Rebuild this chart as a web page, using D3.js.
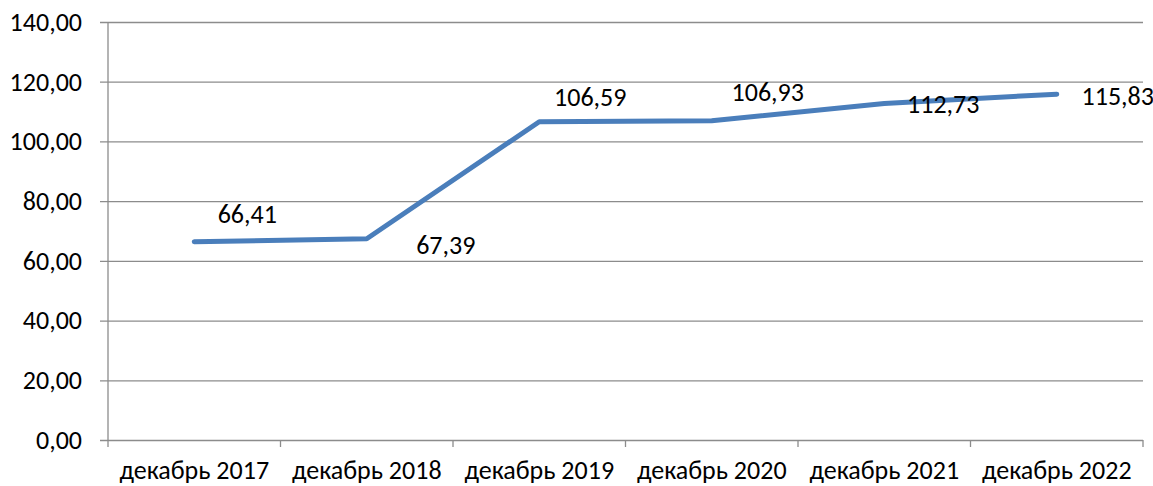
<!DOCTYPE html>
<html>
<head>
<meta charset="utf-8">
<script src="https://cdn.jsdelivr.net/npm/d3@7"></script>
<style>
  body { margin: 0; background: #fff; }
  svg text { font-family: Carlito, Calibri, "Liberation Sans", sans-serif; fill: #000; }
</style>
</head>
<body>
<div id="chart"></div>
<script>
const categories = ['декабрь 2017', 'декабрь 2018', 'декабрь 2019', 'декабрь 2020', 'декабрь 2021', 'декабрь 2022']
const values = [66.41, 67.39, 106.59, 106.93, 112.73, 115.83]
const yTicks = [0, 20, 40, 60, 80, 100, 120, 140]

// where each data label sits relative to its point (as placed in the original)
const labelShift = [[53, -19], [79, 15], [51, -16], [56, -20], [59, 10], [61, 11]]

const width = 1153
const height = 486
const margin = { top: 22, right: 10, bottom: 46, left: 108 }
const fontSize = 26

const svg = d3.select('#chart')
  .append('svg')
    .attr('width', width)
    .attr('height', height)

const xScale = d3.scaleBand()
  .domain(categories)
  .range([margin.left, width - margin.right])

const yScale = d3.scaleLinear()
  .domain([0, 140])
  .range([height - margin.bottom, margin.top])

const fmt = v => d3.format('.2f')(v).replace('.', ',')

// gridlines + y axis
const yAxis = d3.axisLeft(yScale)
  .tickValues(yTicks)
  .tickFormat(fmt)
  .tickSize(-(width - margin.right - margin.left))
  .tickSizeOuter(0)

const gy = svg.append('g')
  .attr('transform', `translate(${margin.left},0)`)
  .call(yAxis)
gy.select('.domain').remove()
gy.selectAll('.tick line')
  .attr('x1', -8)
  .attr('stroke', '#8c8c8c')
  .attr('stroke-width', 1.3)
gy.selectAll('.tick text')
  .attr('x', -26)
  .attr('dy', '0.32em')
  .attr('font-size', fontSize)

svg.append('line')
  .attr('x1', margin.left).attr('x2', margin.left)
  .attr('y1', margin.top).attr('y2', height - margin.bottom)
  .attr('stroke', '#8c8c8c')
  .attr('stroke-width', 1.3)

// x axis with ticks on category boundaries
const gx = svg.append('g')
  .attr('transform', `translate(0,${height - margin.bottom})`)
  .call(d3.axisBottom(xScale).tickSize(0).tickSizeOuter(0))
gx.select('.domain').remove()
gx.selectAll('.tick text')
  .attr('y', 39)
  .attr('dy', 0)
  .attr('font-size', fontSize)

const bounds = categories.map(c => xScale(c)).concat([xScale(categories[categories.length - 1]) + xScale.bandwidth()])
gx.selectAll('.bound')
  .data(bounds).enter()
  .append('line')
    .attr('x1', d => d).attr('x2', d => d)
    .attr('y1', 0).attr('y2', 7)
    .attr('stroke', '#8c8c8c')
    .attr('stroke-width', 1.3)

// line
const cx = c => xScale(c) + xScale.bandwidth() / 2
const line = d3.line()
  .x((d, i) => cx(categories[i]))
  .y(d => yScale(d))

svg.append('path')
  .datum(values)
  .attr('d', line)
  .attr('fill', 'none')
  .attr('stroke', '#4a7ebb')
  .attr('stroke-width', 5)
  .attr('stroke-linecap', 'round')
  .attr('stroke-linejoin', 'round')

// data labels
svg.append('g').selectAll('text')
  .data(values).enter()
  .append('text')
    .text(d => fmt(d))
    .attr('x', (d, i) => cx(categories[i]) + labelShift[i][0])
    .attr('y', (d, i) => yScale(d) + labelShift[i][1])
    .attr('text-anchor', 'middle')
    .attr('font-size', fontSize)
</script>
</body>
</html>
